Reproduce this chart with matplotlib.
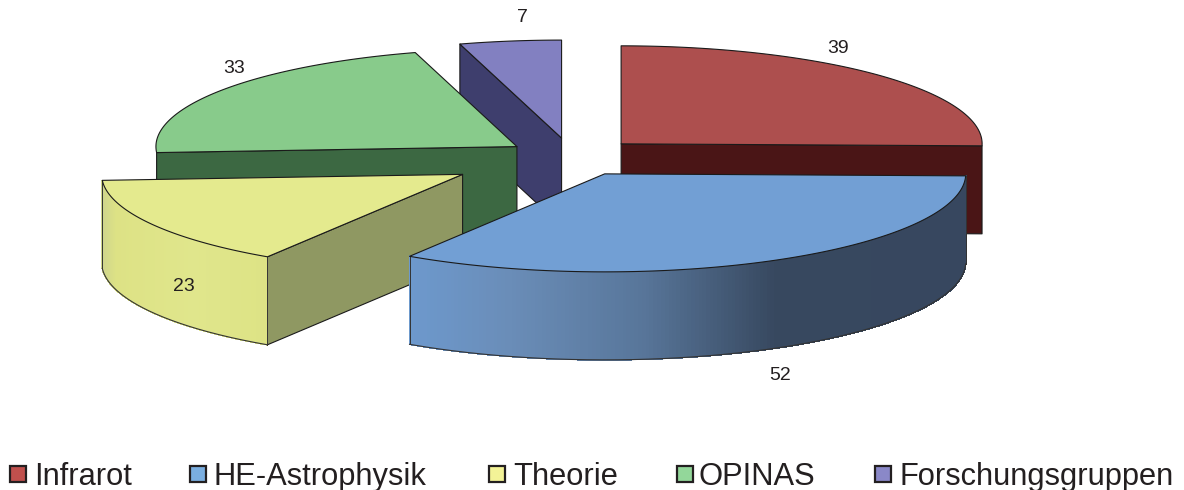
import numpy as np
import matplotlib
matplotlib.use('Agg')
import matplotlib.pyplot as plt
from matplotlib.patches import Polygon, Rectangle
from matplotlib.colors import to_rgb

plt.rcParams['font.family'] = ['Liberation Sans', 'DejaVu Sans']

# data
categories = ['Infrarot', 'HE-Astrophysik', 'Theorie', 'OPINAS', 'Forschungsgruppen']
values = [39, 52, 23, 33, 7]

# styles per slice
top_colors = ['#ad4f4e', '#729fd4', '#e4ea8e', '#88cb8b', '#8280c1']
face_colors = ['#4a1516', '#6d99cd', '#8f9862', '#3c6842', '#3e3e6d']
legend_colors = ['#c0504d', '#7aaee0', '#f3f397', '#93d79a', '#8a88c8']
explode = [0.192, 0.195, 0.35, 0.185, 0.195]

# wall gradients, stops given as fraction of the visible wall from its left end
wall_stops = {
    1: [(0.0, '#6d99cd'), (0.18, '#6a8db8'), (0.42, '#58769a'), (0.66, '#37485f'), (1.0, '#37475f')],
    2: [(0.0, '#cfd68c'), (0.08, '#dde285'), (0.55, '#e0e68c'), (1.0, '#dde385')],
}

# layout, in pixels of the output picture
cx, cy = 571.6, 157
rx, ry = 361, 98
depth = 88
label_pos = [(838, 48.5), (780, 375.5), (184, 286.5), (234, 68.5), (522, 17)]
legend_box_x = [10, 190, 489, 677, 875]
legend_text_x = [34, 214, 513, 699, 899]

fig = plt.figure(figsize=(11.84, 4.90), dpi=100)
ax = fig.add_axes([0, 0, 1, 1])
ax.set_xlim(0, 1184)
ax.set_ylim(490, 0)
ax.axis('off')


def ellipse(ox, oy, theta):
    # theta in degrees, clockwise from 12 o'clock
    t = np.radians(theta)
    return ox + rx * np.sin(t), oy - ry * np.cos(t)


def blend(stops, f):
    xs = [s[0] for s in stops]
    rgb = np.array([to_rgb(s[1]) for s in stops])
    return [np.interp(f, xs, rgb[:, k]) for k in range(3)]


def draw_slice(i, start, end, z):
    mid = (start + end) / 2
    ox = cx + explode[i] * rx * np.sin(np.radians(mid))
    oy = cy - explode[i] * ry * np.cos(np.radians(mid))
    angles = np.linspace(start, end, 200)
    xs, ys = ellipse(ox, oy, angles)
    edge = dict(edgecolor='#1a1a1a', linewidth=0.8, joinstyle='round')

    # cut faces, only those turned to the viewer
    faces = []
    if np.sin(np.radians(start)) < -1e-6:
        faces.append((xs[0], ys[0]))
    if np.sin(np.radians(end)) > 1e-6:
        faces.append((xs[-1], ys[-1]))
    for px, py in faces:
        quad = [(ox, oy), (px, py), (px, py + depth), (ox, oy + depth)]
        ax.add_patch(Polygon(quad, facecolor=face_colors[i], zorder=z, **edge))

    # outer wall, only slices with a real visible wall
    front = (angles > 90) & (angles < 270)
    if i in wall_stops:
        fx, fy = xs[front], ys[front]
        for k in range(len(fx) - 1):
            # fx runs right to left here
            f = 1 - abs(fx[k] - fx[0]) / abs(fx[-1] - fx[0])
            c = blend(wall_stops[i], f)
            quad = [(fx[k], fy[k]), (fx[k + 1], fy[k + 1]),
                    (fx[k + 1], fy[k + 1] + depth), (fx[k], fy[k] + depth)]
            # no antialiasing, otherwise the seams between the strips show
            ax.add_patch(Polygon(quad, facecolor=c, edgecolor=c, linewidth=0.6,
                                 antialiased=False, zorder=z))
        ax.plot(fx, fy + depth, color='#333333', lw=0.8, zorder=z)
        ax.plot([fx[0], fx[0]], [fy[0], fy[0] + depth], color='#333333', lw=0.7, zorder=z)
        ax.plot([fx[-1], fx[-1]], [fy[-1], fy[-1] + depth], color='#333333', lw=0.7, zorder=z)

    # top surface
    pts = [(ox, oy)] + list(zip(xs, ys))
    ax.add_patch(Polygon(pts, facecolor=top_colors[i], zorder=z, **edge))


# slice angles from the values, clockwise from the top
total = sum(values)
edges = np.cumsum([0] + values) / total * 360

# back to front
draw_order = [0, 4, 3, 2, 1]
for z, i in enumerate(draw_order):
    draw_slice(i, edges[i], edges[i + 1], z + 1)

# value labels
for v, (x, y) in zip(values, label_pos):
    ax.text(x, y, str(v), fontsize=14, ha='center', va='center', color='#231f20', zorder=10)

# legend
for i, name in enumerate(categories):
    ax.add_patch(Rectangle((legend_box_x[i], 466), 16, 16, facecolor=legend_colors[i],
                           edgecolor='#231f20', linewidth=1.6, zorder=10))
    ax.text(legend_text_x[i], 473, name, fontsize=22.2, ha='left', va='center_baseline',
            color='#231f20', zorder=10)

fig.savefig('out.png', dpi=100)
